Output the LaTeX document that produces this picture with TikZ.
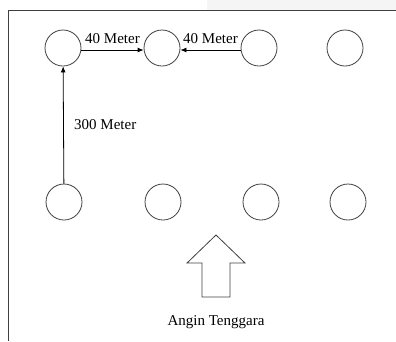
\documentclass[tikz,border=0pt]{standalone}
\usepackage{fontspec}
\setmainfont{Liberation Serif}
\usetikzlibrary{positioning, arrows.meta}

\begin{document}
\begin{tikzpicture}[x = 1pt, y = -1pt, font = \fontsize{15}{17}\selectfont, line width = 0.8pt,
  pile/.style = {draw = black!75, circle, minimum size = 36pt, inner sep = 0pt},
  jarak/.style = {black, -{Latex[length=6pt, width=5pt]}}]
\useasboundingbox (0,0) rectangle (396,341);
\fill [black!4] (207,0) rectangle (396,10);
\draw [black!75] (8,341) -- (8,10) -- (396,10);
% top row
\node [pile] (a1) at (63,48) {};
\node [pile] (a2) at (162,48) {};
\node [pile] (a3) at (259,48) {};
\node [pile] (a4) at (345,48) {};
% bottom row
\node [pile] (b1) at (64,202) {};
\node [pile] (b2) at (163,202) {};
\node [pile] (b3) at (261,202) {};
\node [pile] (b4) at (348,202) {};
% distances
\draw [jarak] (b1) -- (a1) node [midway, right = 7pt] {300 Meter};
\draw [jarak] ([yshift=-2pt]a1.east) -- ([yshift=-2pt]a2.west) node [midway, above = 5pt, inner sep = 1pt] {40 Meter};
\draw [jarak] ([yshift=-2pt]a3.west) -- ([yshift=-2pt]a2.east) node [midway, above = 5pt, inner sep = 1pt] {40 Meter};
% wind
\draw [black!75] (216,235) -- (245,263) -- (230,263) -- (230,297) -- (202,297) -- (202,263) -- (187,263) -- cycle;
\node (angin) at (216,322) {Angin Tenggara};
\end{tikzpicture}
\end{document}
